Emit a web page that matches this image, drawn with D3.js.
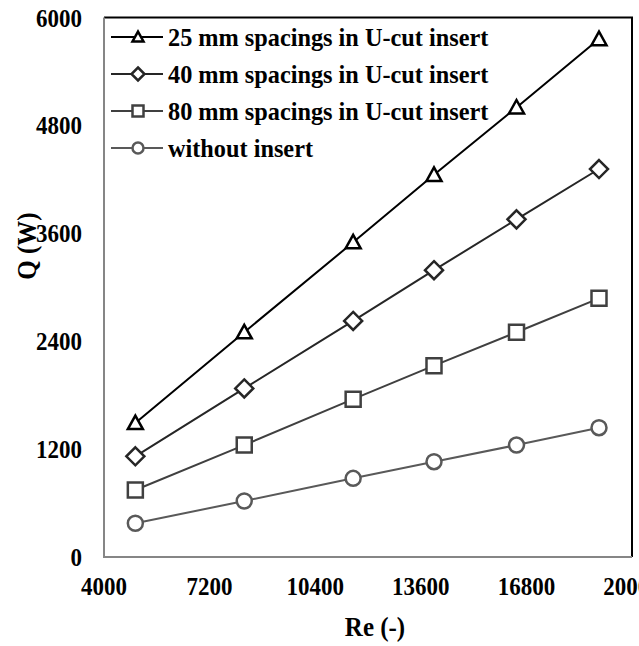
<!DOCTYPE html>
<html>
<head>
<meta charset="utf-8">
<script src="https://cdn.jsdelivr.net/npm/d3@7"></script>
<style>
  body { margin: 0; background: #fff; }
  svg text { font-family: "Liberation Serif", "DejaVu Serif", "Times New Roman", serif; font-weight: bold; }
</style>
</head>
<body>
<div id="main"></div>
<script>
// DATA
const re = [4950, 8250, 11550, 14000, 16500, 19000]
const q25 = [1490, 2500, 3500, 4250, 5000, 5760]
const q40 = [1120, 1875, 2625, 3190, 3755, 4315]
const q80 = [745, 1245, 1755, 2128, 2500, 2877]
const qPlain = [375, 623, 875, 1060, 1245, 1438]
const xTicks = [4000, 7200, 10400, 13600, 16800, 20000]
const yTicks = [0, 1200, 2400, 3600, 4800, 6000]

const series = [
  { name: "25 mm spacings in U-cut insert", values: q25, shape: "triangle", color: "#000000" },
  { name: "40 mm spacings in U-cut insert", values: q40, shape: "diamond", color: "#262626" },
  { name: "80 mm spacings in U-cut insert", values: q80, shape: "square", color: "#404040" },
  { name: "without insert", values: qPlain, shape: "circle", color: "#595959" }
]

// SETUP
const width = 639, height = 646
const plotLeft = 104, plotRight = 632, plotTop = 17.5, plotBottom = 557
const STRETCH = 1.12   // text in the figure is a bit taller than wide

let x = d3.scaleLinear().domain([4000, 20000]).range([plotLeft, plotRight])
let y = d3.scaleLinear().domain([0, 6000]).range([plotBottom, plotTop])

let svg = d3.select("#main").append("svg")
  .attr("width", width)
  .attr("height", height)

// marker path, s = half width
function marker(shape, s) {
  if (shape == "triangle") {
    let h = s * 1.8
    return `M0,${-h * 0.55}L${s},${h * 0.45}L${-s},${h * 0.45}Z`
  }
  if (shape == "diamond") return `M0,${-s}L${s},0L0,${s}L${-s},0Z`
  if (shape == "square") return `M${-s},${-s}H${s}V${s}H${-s}Z`
  return d3.arc()({ innerRadius: 0, outerRadius: s, startAngle: 0, endAngle: 2 * Math.PI })
}

// frame (top / right dark)
svg.append("path")
  .attr("d", `M${plotLeft},${plotTop}H${plotRight}V${plotBottom}`)
  .attr("fill", "none")
  .attr("stroke", "#000")
  .attr("stroke-width", 2)

// axes (gray)
svg.append("path")
  .attr("d", `M${plotLeft},${plotTop}V${plotBottom}H${plotRight}`)
  .attr("fill", "none")
  .attr("stroke", "#868686")
  .attr("stroke-width", 2)

// tick labels
svg.selectAll("text.ytick").data(yTicks)
  .enter().append("text")
    .attr("class", "ytick")
    .attr("transform", d => `translate(82,${y(d)}) scale(1,${STRETCH})`)
    .attr("dy", "0.35em")
    .attr("text-anchor", "end")
    .attr("font-size", 23)
    .text(d => d)

svg.selectAll("text.xtick").data(xTicks)
  .enter().append("text")
    .attr("class", "xtick")
    .attr("transform", d => `translate(${x(d)},595) scale(1,${STRETCH})`)
    .attr("text-anchor", "middle")
    .attr("font-size", 23)
    .text(d => d)

// axis titles
svg.append("text")
  .attr("transform", `translate(375,636) scale(1,${STRETCH})`)
  .attr("text-anchor", "middle")
  .attr("font-size", 25)
  .text("Re (-)")

svg.append("text")
  .attr("transform", `translate(36,246) rotate(-90) scale(1,${STRETCH})`)
  .attr("text-anchor", "middle")
  .attr("font-size", 25)
  .text("Q (W)")

// lines + markers
let line = d3.line()
  .x((d, i) => x(re[i]))
  .y(d => y(d))

series.forEach(s => {
  svg.append("path")
    .attr("d", line(s.values))
    .attr("fill", "none")
    .attr("stroke", s.color)
    .attr("stroke-width", 2)

  svg.selectAll(null).data(s.values)
    .enter().append("path")
      .attr("transform", (d, i) => `translate(${x(re[i])},${y(d)})`)
      .attr("d", marker(s.shape, s.shape == "diamond" ? 9 : 7.5))
      .attr("fill", "#fff")
      .attr("stroke", s.color)
      .attr("stroke-width", 2.5)
})

// legend
let legend = svg.selectAll("g.legend").data(series)
  .enter().append("g")
    .attr("class", "legend")
    .attr("transform", (d, i) => `translate(111,${37 + i * 37})`)

legend.append("line")
  .attr("x1", 0).attr("x2", 52)
  .attr("stroke", d => d.color)
  .attr("stroke-width", 2)

legend.append("path")
  .attr("transform", "translate(27,0)")
  .attr("d", d => marker(d.shape, d.shape == "diamond" ? 6.5 : 5.5))
  .attr("fill", "#fff")
  .attr("stroke", d => d.color)
  .attr("stroke-width", 2.5)

legend.append("text")
  .attr("transform", `translate(57,0) scale(1,1.06)`)
  .attr("dy", "0.35em")
  .attr("font-size", 24.3)
  .text(d => d.name)
</script>
</body>
</html>
